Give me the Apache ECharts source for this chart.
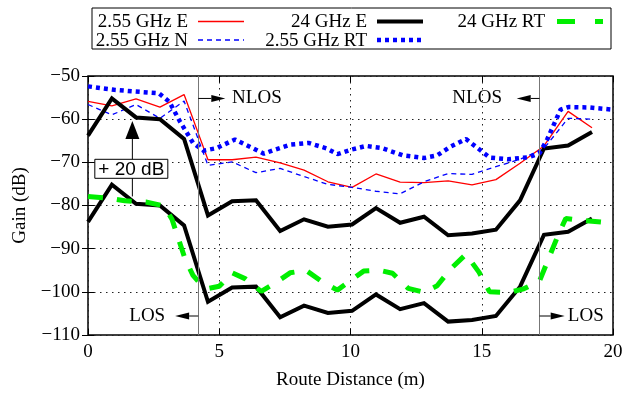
<!DOCTYPE html>
<html>
<head>
<meta charset="utf-8">
<script src="https://cdn.jsdelivr.net/npm/echarts@6/dist/echarts.min.js"></script>
<style>
  html, body { margin: 0; padding: 0; background: #fff; }
  #chart { width: 627px; height: 395px; }
</style>
</head>
<body>
<div id="chart"></div>
<script>
// Measurement positions along the route (m), one every 3 ft
const dist = [0, 0.91, 1.83, 2.74, 3.66, 4.57, 5.49, 6.40, 7.32, 8.23, 9.14,
              10.06, 10.97, 11.89, 12.80, 13.72, 14.63, 15.54, 16.46, 17.37, 18.29, 19.20];

// Measured gains (dB)
const gain255E = [-55.9, -56.9, -55.3, -57.2, -54.3, -69.4, -69.4, -68.8, -70.1, -71.8, -74.5,
                  -75.8, -72.7, -74.6, -74.7, -74.3, -75.2, -74.0, -70.2, -66.2, -58.2, -62.0];
const gain255N = [-56.6, -59.0, -56.6, -59.8, -55.8, -70.7, -69.9, -72.4, -71.4, -73.3, -75.1,
                  -75.8, -76.7, -77.3, -74.5, -72.6, -72.8, -71.0, -69.3, -66.8, -59.8, -60.0];
const gain24E   = [-83.8, -75.2, -79.6, -80.0, -84.6, -102.3, -99.0, -98.8, -105.9, -103.2, -104.9,
                   -104.4, -100.6, -104.0, -102.6, -106.9, -106.5, -105.6, -98.8, -86.8, -86.1, -83.0];
// The 24 GHz measurement is also drawn shifted up by this many dB
const offset24E = 20;

// Ray-tracing predictions
const rt255Dist = [0, 1.0, 1.8, 2.7, 3.1, 3.5, 4.0, 4.4, 4.9, 5.6, 6.1, 6.7, 7.1, 7.7, 8.4, 9.1, 9.5,
                   10.0, 10.6, 11.2, 12.0, 12.8, 13.3, 13.8, 14.4, 14.8, 15.3, 16.0, 16.8, 17.2, 17.5,
                   18.0, 18.3, 19.1, 20.0];
const rt255Gain = [-52.4, -53.2, -53.6, -54.0, -56.0, -60.5, -65.5, -67.3, -66.7, -64.7, -66.2, -68.0,
                   -67.1, -65.9, -65.5, -66.8, -68.1, -67.1, -66.2, -66.7, -68.4, -69.0, -68.4, -66.4,
                   -64.6, -66.5, -68.9, -69.3, -68.8, -67.9, -64.6, -57.8, -57.2, -57.3, -57.8];
const rt24Dist = [0, 0.9, 1.4, 2.2, 2.9, 3.2, 3.45, 3.7, 4.0, 4.35, 4.6, 5.0, 5.5, 6.0, 6.6, 7.2, 7.7,
                  8.3, 8.9, 9.5, 10.0, 10.5, 11.1, 11.6, 12.2, 12.8, 13.3, 13.8, 14.4, 14.9, 15.3,
                  16.0, 16.6, 17.2, 17.5, 17.9, 18.2, 18.6, 20.0];
const rt24Gain = [-77.9, -78.4, -78.9, -79.2, -80.1, -83.2, -87.8, -92.4, -96.2, -98.6, -99.2, -98.7,
                  -95.6, -97.0, -99.9, -97.7, -95.6, -95.0, -97.6, -99.6, -97.4, -95.2, -95.0, -95.7,
                  -99.2, -100.1, -98.6, -94.8, -91.3, -95.5, -100.0, -100.2, -99.3, -97.5, -93.0,
                  -87.0, -83.0, -83.3, -84.1];

// LOS / NLOS region boundaries (m)
const regionEdges = [4.2, 17.2];

const FONT = 'Liberation Serif, Times New Roman, serif';
const pairs = (xs, ys) => xs.map((x, i) => [x, ys[i]]);
const minus = v => (v < 0 ? '\u2212' + Math.abs(v) : String(v));

const chart = echarts.init(document.getElementById('chart'), null, { renderer: 'canvas' });

const gridLine = { show: true, lineStyle: { color: '#222', width: 1, type: [1.5, 4.5] } };

const option = {
  animation: false,
  backgroundColor: '#fff',
  grid: { left: 88, right: 14, top: 76, bottom: 56, show: true, borderColor: '#000', borderWidth: 1.5 },
  xAxis: [{
    type: 'value', min: 0, max: 20, interval: 5,
    name: 'Route Distance (m)', nameLocation: 'middle', nameGap: 36,
    nameTextStyle: { fontFamily: FONT, fontSize: 19, color: '#000' },
    axisLine: { show: false },
    axisTick: { show: true, inside: true, length: 6, lineStyle: { color: '#000' } },
    axisLabel: { fontFamily: FONT, fontSize: 19, color: '#000', margin: 8 },
    splitLine: gridLine
  }, {
    type: 'value', min: 0, max: 20, interval: 5, position: 'top',
    axisLine: { show: false }, axisLabel: { show: false }, splitLine: { show: false },
    axisTick: { show: true, inside: true, length: 6, lineStyle: { color: '#000' } }
  }],
  yAxis: [{
    type: 'value', min: -110, max: -50, interval: 10,
    name: 'Gain (dB)', nameLocation: 'middle', nameGap: 58,
    nameTextStyle: { fontFamily: FONT, fontSize: 19, color: '#000' },
    axisLine: { show: false },
    axisTick: { show: true, inside: true, length: 6, lineStyle: { color: '#000' } },
    axisLabel: { fontFamily: FONT, fontSize: 19, color: '#000', margin: 8, formatter: minus },
    splitLine: gridLine
  }, {
    type: 'value', min: -110, max: -50, interval: 10, position: 'right',
    axisLine: { show: false }, axisLabel: { show: false }, splitLine: { show: false },
    axisTick: { show: true, inside: true, length: 6, lineStyle: { color: '#000' } }
  }],
  series: [
    {
      name: '2.55 GHz E', type: 'line', symbol: 'none', data: pairs(dist, gain255E),
      lineStyle: { color: '#ff0000', width: 1.3 },
      markLine: {
        silent: true, symbol: 'none', label: { show: false },
        lineStyle: { color: '#777', width: 1, type: 'solid' },
        data: regionEdges.map(x => ({ xAxis: x }))
      }
    },
    {
      name: '2.55 GHz N', type: 'line', symbol: 'none', data: pairs(dist, gain255N),
      lineStyle: { color: '#0000ff', width: 1.3, type: [5, 4] }
    },
    {
      name: '24 GHz E', type: 'line', symbol: 'none', data: pairs(dist, gain24E),
      lineStyle: { color: '#000', width: 4, join: 'miter' }
    },
    {
      name: '24 GHz E (+20 dB)', type: 'line', symbol: 'none',
      data: pairs(dist, gain24E.map(v => v + offset24E)),
      lineStyle: { color: '#000', width: 4, join: 'miter' }
    },
    {
      name: '2.55 GHz RT', type: 'line', symbol: 'none', data: pairs(rt255Dist, rt255Gain),
      lineStyle: { color: '#0000ff', width: 4.5, type: [4, 4], cap: 'butt' }
    },
    {
      name: '24 GHz RT', type: 'line', symbol: 'none', data: pairs(rt24Dist, rt24Gain),
      lineStyle: { color: '#00ee00', width: 5, type: [15, 14], cap: 'butt' }
    }
  ]
};

chart.setOption(option);

// ---- overlay: key box, region labels, offset note ----
const px = (x, y) => chart.convertToPixel({ gridIndex: 0 }, [x, y]);
const g = [];

function text(x, y, str, align, font) {
  g.push({
    type: 'text', z: 100,
    style: { x, y, text: str, fill: '#000', font: font || ('19px ' + FONT),
             align, verticalAlign: 'middle', textAlign: align, textVerticalAlign: 'middle' }
  });
}
function line(x1, y1, x2, y2, stroke, width, dash) {
  g.push({
    type: 'line', z: 100,
    shape: { x1, y1, x2, y2 },
    style: { stroke, lineWidth: width, lineDash: dash || null, lineCap: 'butt' }
  });
}
// arrow from (x1,y1) with filled head ending at (x2,y2)
function arrow(x1, y1, x2, y2, len, half) {
  const dx = x2 - x1, dy = y2 - y1, d = Math.hypot(dx, dy);
  const ux = dx / d, uy = dy / d;
  const bx = x2 - ux * len, by = y2 - uy * len;
  line(x1, y1, bx, by, '#000', 1);
  g.push({
    type: 'polygon', z: 101,
    shape: { points: [[x2, y2], [bx - uy * half, by + ux * half], [bx + uy * half, by - ux * half]] },
    style: { fill: '#000' }
  });
}

// key
g.push({ type: 'rect', z: 99, shape: { x: 92, y: 8, width: 519, height: 41 },
         style: { fill: '#fff', stroke: '#000', lineWidth: 1 } });
const keyRows = [21.5, 40];
const keyItems = [
  { label: '2.55 GHz E',  tx: 188, lx: 198, row: 0, stroke: '#ff0000', w: 1.3 },
  { label: '2.55 GHz N',  tx: 188, lx: 198, row: 1, stroke: '#0000ff', w: 1.3, dash: [5, 4] },
  { label: '24 GHz E',    tx: 367, lx: 377, row: 0, stroke: '#000',    w: 4 },
  { label: '2.55 GHz RT', tx: 367, lx: 377, row: 1, stroke: '#0000ff', w: 4.5, dash: [4, 4] },
  { label: '24 GHz RT',   tx: 545, lx: 557, row: 0, stroke: '#00ee00', w: 5, dash: [18, 20] }
];
keyItems.forEach(k => {
  const y = keyRows[k.row];
  text(k.tx, y + 1, k.label, 'right');
  line(k.lx, y, k.lx + 46, y, k.stroke, k.w, k.dash);
});

// region labels
const nlosY = -55.2, losY = -105.6;
let a, b;
a = px(regionEdges[0], nlosY); b = px(5.23, nlosY);
arrow(a[0], a[1], b[0], b[1], 14, 3.5);
text(px(5.49, nlosY)[0], a[1], 'NLOS', 'left');
a = px(regionEdges[1], nlosY); b = px(16.33, nlosY);
arrow(a[0], a[1], b[0], b[1], 14, 3.5);
text(px(15.77, nlosY)[0], a[1], 'NLOS', 'right');
a = px(regionEdges[0], losY); b = px(3.32, losY);
arrow(a[0], a[1], b[0], b[1], 14, 3.5);
text(px(2.94, losY)[0], a[1], 'LOS', 'right');
a = px(regionEdges[1], losY); b = px(18.16, losY);
arrow(a[0], a[1], b[0], b[1], 14, 3.5);
text(px(18.28, losY)[0], a[1], 'LOS', 'left');

// offset note for the shifted 24 GHz curve
a = px(1.69, -77.9); b = px(1.69, -60.4);
arrow(a[0], a[1], b[0], b[1], 18, 7);
const box = px(1.65, -71.5);
g.push({ type: 'rect', z: 102, shape: { x: box[0] - 36.5, y: box[1] - 9.5, width: 73, height: 19 },
         style: { fill: '#fff', stroke: '#000', lineWidth: 1 } });
g.push({
  type: 'text', z: 103,
  style: { x: box[0], y: box[1] + 1, text: '+ 20 dB', fill: '#000',
           font: '19px Liberation Sans, Arial, sans-serif',
           align: 'center', verticalAlign: 'middle', textAlign: 'center', textVerticalAlign: 'middle' }
});

chart.setOption({ graphic: g });
</script>
</body>
</html>
